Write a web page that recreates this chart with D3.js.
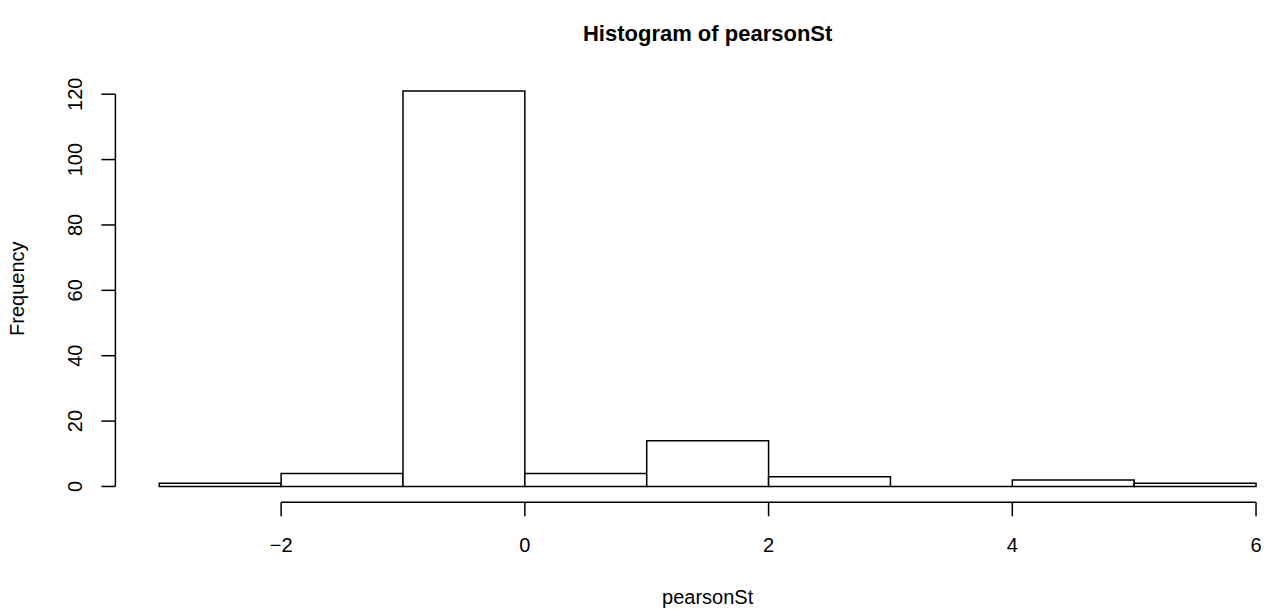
<!DOCTYPE html>
<html>
<head>
<meta charset="utf-8">
<script src="https://cdn.jsdelivr.net/npm/d3@7"></script>
<style>
  html, body { margin: 0; padding: 0; background: #fff; }
  svg { display: block; }
  text { font-family: "Liberation Sans", Arial, Helvetica, sans-serif; fill: #000; }
</style>
</head>
<body>
<svg id="chart" width="1275" height="609"></svg>
<script>
// Histogram bins (unit width) and counts
const binStarts = [-3, -2, -1, 0, 1, 2, 3, 4, 5];
const binEnds   = [-2, -1, 0, 1, 2, 3, 4, 5, 6];
const counts    = [1, 4, 121, 4, 14, 3, 0, 2, 1];
const xTicks = [-2, 0, 2, 4, 6];
const yTicks = [0, 20, 40, 60, 80, 100, 120];
const titleText = "Histogram of pearsonSt";
const xLabel = "pearsonSt";
const yLabel = "Frequency";

const svg = d3.select("#chart");

// Plot region with 4% padding on each side of the data range
const xMin = -3, xMax = 6, yMin = 0, yMax = 121;
const xPad = (xMax - xMin) * 0.04, yPad = (yMax - yMin) * 0.04;
const x = d3.scaleLinear().domain([xMin - xPad, xMax + xPad]).range([115.4, 1299.9]);
const y = d3.scaleLinear().domain([yMin - yPad, yMax + yPad]).range([502.3, 75.1]);

const bins = binStarts.map((s, i) => ({ x0: s, x1: binEnds[i], n: counts[i] }));

// Bars drawn as closed paths so that empty bins still show their outline
svg.append("g")
  .selectAll("path")
  .data(bins)
  .join("path")
  .attr("d", d => {
    const p = d3.path();
    p.moveTo(x(d.x0), y(0));
    p.lineTo(x(d.x0), y(d.n));
    p.lineTo(x(d.x1), y(d.n));
    p.lineTo(x(d.x1), y(0));
    p.closePath();
    return p.toString();
  })
  .attr("fill", "#fff")
  .attr("stroke", "#000")
  .attr("stroke-width", 1.5);

// X axis
const xAxis = svg.append("g").attr("transform", `translate(0,${y.range()[0]})`);
xAxis.append("line")
  .attr("x1", x(xTicks[0])).attr("x2", x(xTicks[xTicks.length - 1]))
  .attr("stroke", "#000").attr("stroke-width", 1.5);
xAxis.selectAll("line.tick").data(xTicks).join("line")
  .attr("class", "tick")
  .attr("x1", d => x(d)).attr("x2", d => x(d))
  .attr("y1", 0).attr("y2", 14)
  .attr("stroke", "#000").attr("stroke-width", 1.5);
xAxis.selectAll("text").data(xTicks).join("text")
  .attr("x", d => x(d)).attr("y", 50)
  .attr("text-anchor", "middle")
  .style("font-size", "20px")
  .text(d => d < 0 ? "\u2212" + Math.abs(d) : d);

// Y axis
const yAxis = svg.append("g").attr("transform", `translate(${x.range()[0]},0)`);
yAxis.append("line")
  .attr("y1", y(yTicks[0])).attr("y2", y(yTicks[yTicks.length - 1]))
  .attr("stroke", "#000").attr("stroke-width", 1.5);
yAxis.selectAll("line.tick").data(yTicks).join("line")
  .attr("class", "tick")
  .attr("y1", d => y(d)).attr("y2", d => y(d))
  .attr("x1", 0).attr("x2", -14)
  .attr("stroke", "#000").attr("stroke-width", 1.5);
yAxis.selectAll("text").data(yTicks).join("text")
  .attr("transform", d => `translate(-33,${y(d)}) rotate(-90)`)
  .attr("text-anchor", "middle")
  .style("font-size", "20px")
  .text(d => d);

// Titles
const cx = (x.range()[0] + x.range()[1]) / 2;
svg.append("text")
  .attr("x", cx).attr("y", 41)
  .attr("text-anchor", "middle")
  .style("font-size", "22px").style("font-weight", "bold")
  .text(titleText);
svg.append("text")
  .attr("x", cx).attr("y", 604)
  .attr("text-anchor", "middle")
  .style("font-size", "20px")
  .text(xLabel);
svg.append("text")
  .attr("transform", `translate(24,${(y.range()[0] + y.range()[1]) / 2}) rotate(-90)`)
  .attr("text-anchor", "middle")
  .style("font-size", "20px")
  .text(yLabel);
</script>
</body>
</html>
